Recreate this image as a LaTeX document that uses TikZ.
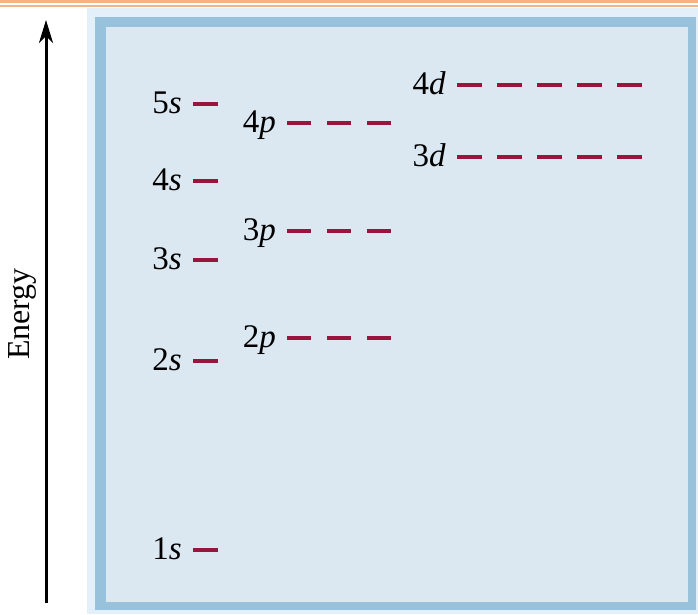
\documentclass[tikz,border=0pt]{standalone}
\usepackage{fontspec}
\setmainfont{Liberation Serif}
\usepackage{xcolor}
\usetikzlibrary{arrows.meta,positioning}
\definecolor{panelblue}{RGB}{219,231,241}
\definecolor{frameblue}{RGB}{152,194,220}
\definecolor{framelight}{RGB}{228,240,249}
\definecolor{levelred}{RGB}{152,22,62}
\definecolor{bandorange}{RGB}{245,178,130}

\begin{document}
\begin{tikzpicture}[x=1pt,y=-1pt,>=Stealth,
  orb/.style={levelred,line width=4.5pt},
  lvl/.style={anchor=base east,inner sep=0pt,font=\fontsize{33}{35}\selectfont}]
\useasboundingbox (0,0) rectangle (698,614);
% top rule and framed panel
\fill[bandorange] (0,0) rectangle (698,3.4);
\fill[bandorange] (0,4.6) rectangle (698,6.6);
\fill[framelight] (87,8) rectangle (698,614);
\fill[frameblue] (95,17) rectangle (696,610);
\fill[panelblue] (106,27) rectangle (688,602);
% energy axis
\coordinate (e0) at (46,603); \coordinate (e1) at (46,20);
\draw[-{Stealth[length=23pt,width=14pt,inset=7pt]},line width=3pt] (e0)--(e1);
\node[rotate=90,font=\fontsize{32}{34}\selectfont] (elab) at (22,314) {Energy};
% s levels
\foreach \n/\y in {1/550,2/361,3/260,4/181,5/104}{
  \node[lvl] (s\n) at (182,\y+9) {\n\textit{s}};
  \draw[orb] (193,\y)--++(25,0);
}
% p levels
\foreach \n/\y in {2/338,3/231,4/123}{
  \node[lvl] (p\n) at (276,\y+9) {\n\textit{p}};
  \foreach \x in {287,327,367} \draw[orb] (\x,\y)--++(24,0);
}
% d levels
\foreach \n/\y in {3/157,4/85}{
  \node[lvl] (d\n) at (446,\y+9) {\n\textit{d}};
  \foreach \x in {457,497,537,577,617} \draw[orb] (\x,\y)--++(25,0);
}
\end{tikzpicture}
\end{document}
